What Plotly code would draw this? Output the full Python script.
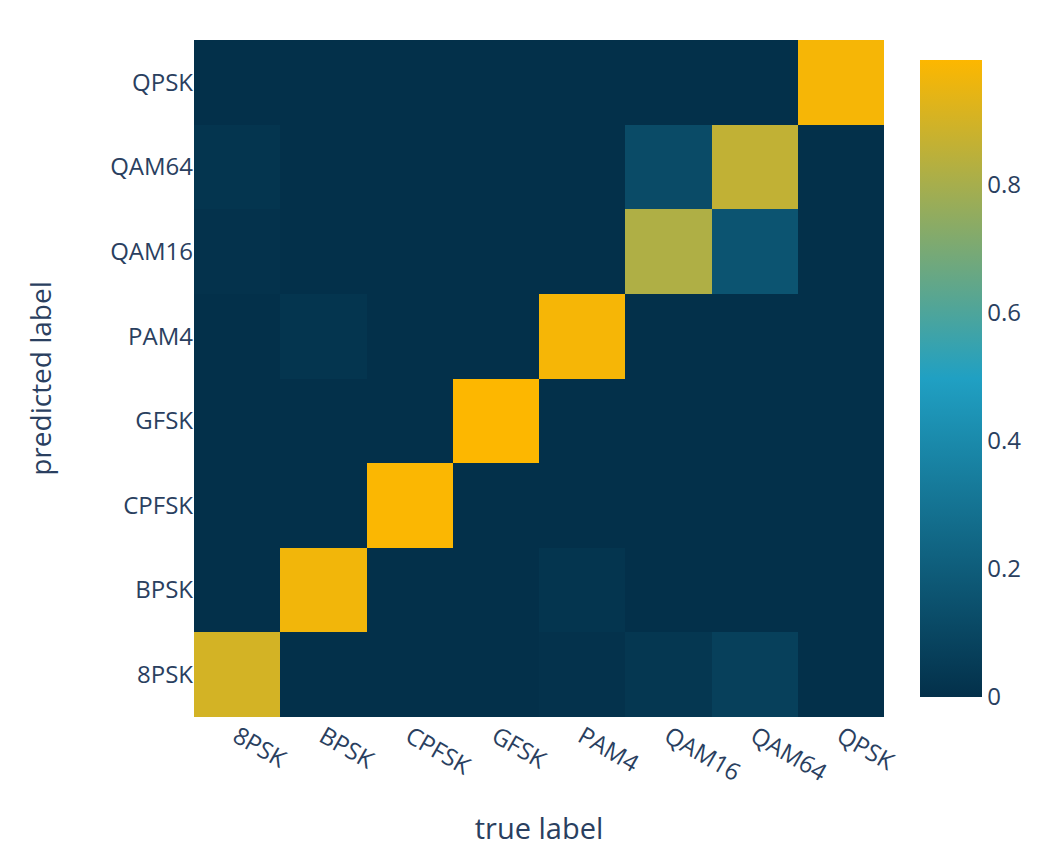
import plotly.graph_objects as go

# Modulation classes (same order on both axes)
classes = ["8PSK", "BPSK", "CPFSK", "GFSK", "PAM4", "QAM16", "QAM64", "QPSK"]

# Confusion matrix, one list per predicted label (rows), columns = true label
pred_8PSK  = [0.90, 0.00, 0.00, 0.00, 0.01, 0.03, 0.07, 0.00]
pred_BPSK  = [0.00, 0.97, 0.00, 0.00, 0.02, 0.00, 0.00, 0.00]
pred_CPFSK = [0.00, 0.00, 0.99, 0.00, 0.00, 0.00, 0.00, 0.00]
pred_GFSK  = [0.00, 0.00, 0.00, 0.995, 0.00, 0.00, 0.00, 0.00]
pred_PAM4  = [0.00, 0.02, 0.00, 0.00, 0.98, 0.00, 0.00, 0.00]
pred_QAM16 = [0.01, 0.00, 0.00, 0.00, 0.00, 0.82, 0.16, 0.00]
pred_QAM64 = [0.02, 0.00, 0.00, 0.00, 0.00, 0.12, 0.86, 0.00]
pred_QPSK  = [0.00, 0.00, 0.00, 0.00, 0.00, 0.00, 0.00, 0.98]

z = [pred_8PSK, pred_BPSK, pred_CPFSK, pred_GFSK,
     pred_PAM4, pred_QAM16, pred_QAM64, pred_QPSK]

colorscale = [[0.0, "#03304a"], [0.5, "#20a0c3"], [1.0, "#fdb700"]]

fig = go.Figure(
    go.Heatmap(
        z=z,
        x=classes,
        y=classes,
        colorscale=colorscale,
        zmin=0,
        colorbar=dict(
            thickness=62,
            lenmode="pixels",
            len=637,
            ypad=0,
            x=1.052,
            xanchor="left",
            xpad=0,
            y=0.5,
            outlinewidth=0,
            tickvals=[0, 0.2, 0.4, 0.6, 0.8],
            ticktext=["0", "0.2", "0.4", "0.6", "0.8"],
            tickfont=dict(size=24, color="#2a3f5f"),
        ),
    )
)

fig.update_layout(
    width=1057,
    height=847,
    margin=dict(l=194, r=173, t=40, b=130, autoexpand=False),
    paper_bgcolor="white",
    plot_bgcolor="white",
    font=dict(family="Open Sans", color="#2a3f5f"),
    xaxis=dict(
        title=dict(text="true label", font=dict(size=29), standoff=50),
        tickangle=30,
        tickfont=dict(size=24),
        automargin=False,
        showgrid=False,
    ),
    yaxis=dict(
        title=dict(text="predicted label", font=dict(size=28), standoff=50),
        tickfont=dict(size=24),
        automargin=False,
        showgrid=False,
    ),
)

fig.write_html("out.html")
